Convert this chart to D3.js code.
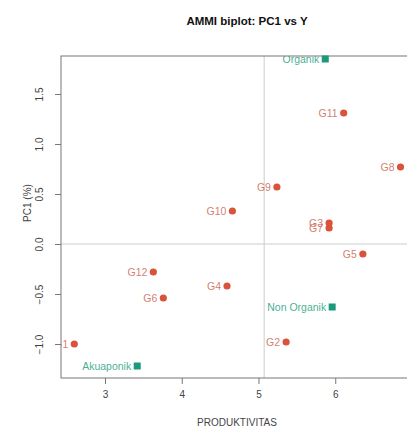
<!DOCTYPE html>
<html><head><meta charset="utf-8">
<script src="https://cdn.jsdelivr.net/npm/d3@7"></script>
<style>body{margin:0;background:#fff;}svg{display:block;font-family:"Liberation Sans",Arial,sans-serif;}</style>
</head><body><svg id="c" width="407" height="430"></svg>
<script>
const genotypes = ["G1","G2","G3","G4","G5","G6","G7","G8","G9","G10","G11","G12"];
const genoX = [2.60,5.36,5.92,4.59,6.36,3.76,5.92,6.85,5.24,4.66,6.11,3.63];
const genoY = [-1.00,-0.98,0.21,-0.42,-0.10,-0.54,0.16,0.77,0.57,0.33,1.31,-0.28];
const envs = ["Organik","Non Organik","Akuaponik"];
const envX = [5.87,5.96,3.42];
const envY = [1.85,-0.63,-1.22];
const xTicks = [3,4,5,6,7];
const yTicks = [-1.0,-0.5,0.0,0.5,1.0,1.5];
const meanX = 5.074;

const svg = d3.select("#c");
const L=61, T=56, B=378, R=412;
const x = d3.scaleLinear().domain([2.427,7.0]).range([L,R]);
const y = d3.scaleLinear().domain([-1.34,1.88]).range([B,T]);
const axisCol="#777", textCol="#444";

svg.append("clipPath").attr("id","plotclip").append("rect").attr("x",L).attr("y",T).attr("width",R-L).attr("height",B-T);

// reference lines
svg.append("line").attr("x1",x(meanX)).attr("x2",x(meanX)).attr("y1",T).attr("y2",B).attr("stroke","#ccc").attr("stroke-width",1);
svg.append("line").attr("x1",L).attr("x2",R).attr("y1",y(0)).attr("y2",y(0)).attr("stroke","#ccc").attr("stroke-width",1);

// box
svg.append("rect").attr("x",L).attr("y",T).attr("width",R-L).attr("height",B-T).attr("fill","none").attr("stroke",axisCol).attr("stroke-width",1);

// x axis
const xa = svg.append("g").attr("transform",`translate(0,${B})`)
  .call(d3.axisBottom(x).tickValues(xTicks).tickSize(6).tickPadding(7).tickFormat(d3.format("d")));
xa.select(".domain").remove();
xa.selectAll("line").attr("stroke",axisCol);
xa.selectAll("text").attr("fill",textCol).attr("font-size",10).attr("font-family","Liberation Sans, Arial, sans-serif");

// y axis
const ya = svg.append("g").attr("transform",`translate(${L},0)`)
  .call(d3.axisLeft(y).tickValues(yTicks).tickSize(6).tickFormat(d3.format(".1f")));
ya.select(".domain").remove();
ya.selectAll("line").attr("stroke",axisCol);
ya.selectAll("text").attr("fill",textCol).attr("font-size",10).attr("font-family","Liberation Sans, Arial, sans-serif")
  .attr("text-anchor","middle").attr("x",0)
  .attr("transform",`translate(-22,0) rotate(-90)`).attr("dy","0.35em")
  .text(d=>d3.format(".1f")(d).replace("-","\u2212"));

// titles
svg.append("text").attr("x",247).attr("y",25).attr("text-anchor","middle").attr("font-weight","bold").attr("font-size",11.5).attr("fill","#111").text("AMMI biplot: PC1 vs Y");
svg.append("text").attr("x",237).attr("y",426).attr("text-anchor","middle").attr("font-size",10).attr("fill",textCol).text("PRODUKTIVITAS");
svg.append("text").attr("transform",`translate(31,203) rotate(-90)`).attr("text-anchor","middle").attr("font-size",10).attr("fill",textCol).text("PC1 (%)");

// genotypes
const gdata = genotypes.map((g,i)=>({name:g,x:genoX[i],y:genoY[i]}));
const gg = svg.append("g");
gg.selectAll("circle").data(gdata).enter().append("circle")
  .attr("cx",d=>x(d.x)).attr("cy",d=>y(d.y)).attr("r",3.6).attr("fill","#d9533b");
gg.append("g").attr("clip-path","url(#plotclip)").selectAll("text").data(gdata).enter().append("text")
  .attr("x",d=>x(d.x)-6).attr("y",d=>y(d.y)).attr("dy","0.35em").attr("text-anchor","end")
  .attr("font-size",10.5).attr("fill","#c9664f").attr("fill-opacity",0.85).text(d=>d.name);

// environments
const edata = envs.map((e,i)=>({name:e,x:envX[i],y:envY[i]}));
const eg = svg.append("g");
eg.selectAll("rect").data(edata).enter().append("rect")
  .attr("x",d=>x(d.x)-3.5).attr("y",d=>y(d.y)-3.5).attr("width",7).attr("height",7).attr("fill","#1b9a7b");
eg.append("g").attr("clip-path","url(#plotclip)").selectAll("text").data(edata).enter().append("text")
  .attr("x",d=>x(d.x)-6).attr("y",d=>y(d.y)).attr("dy","0.35em").attr("text-anchor","end")
  .attr("font-size",10.5).attr("fill","#2fa585").attr("fill-opacity",0.9).text(d=>d.name);
</script></body></html>
